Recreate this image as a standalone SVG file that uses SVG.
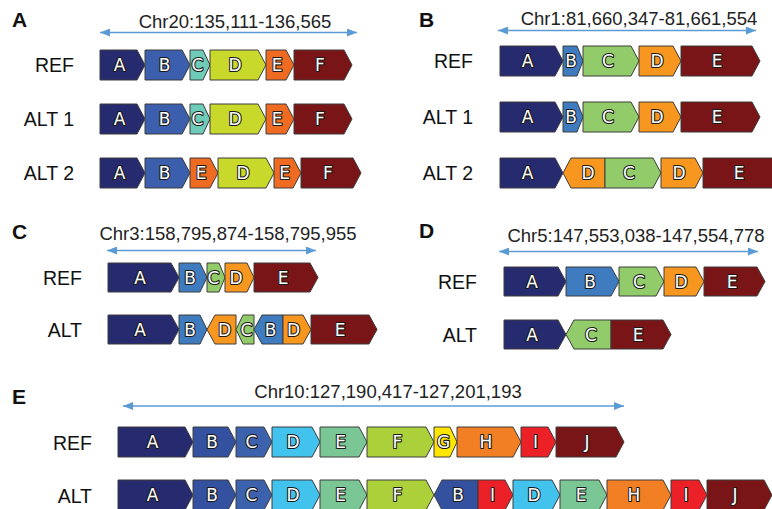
<svg xmlns="http://www.w3.org/2000/svg" width="772" height="509" viewBox="0 0 772 509">
<defs>
<marker id="ah" viewBox="0 0 10 8" refX="10" refY="4" markerWidth="10" markerHeight="8" markerUnits="userSpaceOnUse" orient="auto-start-reverse"><path d="M0,0 L10,4 L0,8 z" fill="#5b9bd5"/></marker>
<style>
polygon{stroke:#3c3c3c;stroke-width:1}
.t{font-family:"DejaVu Sans",sans-serif;font-size:17px;fill:#fff;stroke:#1a1a1a;stroke-width:2.2;paint-order:stroke;stroke-linejoin:round;text-anchor:middle}
.lbl{font-family:"Liberation Sans",Arial,sans-serif;font-size:19.5px;fill:#111;text-anchor:end}
.chr{font-family:"Liberation Sans",Arial,sans-serif;font-size:18.5px;fill:#222;text-anchor:middle}
.pl{font-family:"Liberation Sans",Arial,sans-serif;font-size:21px;font-weight:bold;fill:#111}
.arr{stroke:#5b9bd5;stroke-width:1.5;fill:none;marker-start:url(#ah);marker-end:url(#ah)}
.nv{fill:#262a6e}.dr{fill:#7a1517}
.ab{fill:#3b5fad}.ac{fill:#6dcbb7}.ad{fill:#c8d92b}.ae{fill:#ef6b22}
.bb{fill:#3e7bbf}.bc{fill:#92cc6a}.bd{fill:#f7971f}
.eb{fill:#3451a0}.ec{fill:#3c62ad}.ed{fill:#42c3ee}.ee{fill:#7ac694}.ef{fill:#acd03a}.eg{fill:#ffe500}.eh{fill:#f37f24}.ei{fill:#ec2127}
</style>
</defs>

<g id="labels">
<text class="pl" x="12" y="27">A</text>
<text class="pl" x="419" y="27">B</text>
<text class="pl" x="12" y="239">C</text>
<text class="pl" x="419" y="238">D</text>
<text class="pl" x="12" y="404">E</text>
<text class="chr" x="235" y="28">Chr20:135,111-136,565</text>
<text class="chr" x="639" y="25">Chr1:81,660,347-81,661,554</text>
<text class="chr" x="228" y="240">Chr3:158,795,874-158,795,955</text>
<text class="chr" x="636" y="241.5">Chr5:147,553,038-147,554,778</text>
<text class="chr" x="388" y="398">Chr10:127,190,417-127,201,193</text>
<text class="lbl" x="74" y="72">REF</text>
<text class="lbl" x="74" y="126">ALT 1</text>
<text class="lbl" x="74" y="180">ALT 2</text>
<text class="lbl" x="473" y="68">REF</text>
<text class="lbl" x="473" y="124">ALT 1</text>
<text class="lbl" x="473" y="180">ALT 2</text>
<text class="lbl" x="82" y="284.5">REF</text>
<text class="lbl" x="82" y="336.5">ALT</text>
<text class="lbl" x="477" y="288.5">REF</text>
<text class="lbl" x="477" y="341.5">ALT</text>
<text class="lbl" x="92" y="449.5">REF</text>
<text class="lbl" x="92" y="502.5">ALT</text>
</g>

<g id="connectors">
<line class="arr" x1="100" y1="32.5" x2="357" y2="32.5"/>
<line class="arr" x1="498" y1="30.5" x2="756" y2="30.5"/>
<line class="arr" x1="107" y1="250.5" x2="316" y2="250.5"/>
<line class="arr" x1="499" y1="251.5" x2="758" y2="251.5"/>
<line class="arr" x1="123" y1="406" x2="624" y2="406"/>
</g>

<!-- Panel A REF -->
<g id="a-ref-A"><polygon class="nv" points="100,50 137,50 145,65 137,80 100,80"/><text class="t" x="119.5" y="71.2">A</text></g>
<g id="a-ref-B"><polygon class="ab" points="145,50 182,50 190,65 182,80 145,80"/><text class="t" x="164.5" y="71.2">B</text></g>
<g id="a-ref-C"><polygon class="ac" points="190,50 203,50 210,65 203,80 190,80"/><text class="t" x="197.5" y="71.2">C</text></g>
<g id="a-ref-D"><polygon class="ad" points="210,50 258,50 266,65 258,80 210,80"/><text class="t" x="235" y="71.2">D</text></g>
<g id="a-ref-E"><polygon class="ae" points="266,50 286,50 294,65 286,80 266,80"/><text class="t" x="277" y="71.2">E</text></g>
<g id="a-ref-F"><polygon class="dr" points="294,50 344,50 352,65 344,80 294,80"/><text class="t" x="320" y="71.2">F</text></g>
<!-- Panel A ALT1 -->
<g id="a-alt1-A"><polygon class="nv" points="100,104 137,104 145,119 137,134 100,134"/><text class="t" x="119.5" y="125.2">A</text></g>
<g id="a-alt1-B"><polygon class="ab" points="145,104 182,104 190,119 182,134 145,134"/><text class="t" x="164.5" y="125.2">B</text></g>
<g id="a-alt1-C"><polygon class="ac" points="190,104 203,104 210,119 203,134 190,134"/><text class="t" x="197.5" y="125.2">C</text></g>
<g id="a-alt1-D"><polygon class="ad" points="210,104 258,104 266,119 258,134 210,134"/><text class="t" x="235" y="125.2">D</text></g>
<g id="a-alt1-E"><polygon class="ae" points="266,104 286,104 294,119 286,134 266,134"/><text class="t" x="277" y="125.2">E</text></g>
<g id="a-alt1-F"><polygon class="dr" points="294,104 344,104 352,119 344,134 294,134"/><text class="t" x="320" y="125.2">F</text></g>
<!-- Panel A ALT2 -->
<g id="a-alt2-A"><polygon class="nv" points="100,158 137,158 145,173 137,188 100,188"/><text class="t" x="119.5" y="179.2">A</text></g>
<g id="a-alt2-B"><polygon class="ab" points="145,158 182,158 190,173 182,188 145,188"/><text class="t" x="164.5" y="179.2">B</text></g>
<g id="a-alt2-E1"><polygon class="ae" points="190,158 210,158 218,173 210,188 190,188"/><text class="t" x="201" y="179.2">E</text></g>
<g id="a-alt2-D"><polygon class="ad" points="218,158 266,158 274,173 266,188 218,188"/><text class="t" x="243" y="179.2">D</text></g>
<g id="a-alt2-E2"><polygon class="ae" points="274,158 293,158 301,173 293,188 274,188"/><text class="t" x="284.5" y="179.2">E</text></g>
<g id="a-alt2-F"><polygon class="dr" points="301,158 353,158 361,173 353,188 301,188"/><text class="t" x="328" y="179.2">F</text></g>

<!-- Panel B REF -->
<g id="b-ref-A"><polygon class="nv" points="500,46 555,46 563,61 555,76 500,76"/><text class="t" x="527.5" y="67.2">A</text></g>
<g id="b-ref-B"><polygon class="bb" points="563,46 577,46 583,61 577,76 563,76"/><text class="t" x="571" y="67.2">B</text></g>
<g id="b-ref-C"><polygon class="bc" points="583,46 631,46 639,61 631,76 583,76"/><text class="t" x="608" y="67.2">C</text></g>
<g id="b-ref-D"><polygon class="bd" points="639,46 673,46 681,61 673,76 639,76"/><text class="t" x="657" y="67.2">D</text></g>
<g id="b-ref-E"><polygon class="dr" points="681,46 752,46 760,61 752,76 681,76"/><text class="t" x="717" y="67.2">E</text></g>
<!-- Panel B ALT1 -->
<g id="b-alt1-A"><polygon class="nv" points="500,102 555,102 563,117 555,132 500,132"/><text class="t" x="527.5" y="123.2">A</text></g>
<g id="b-alt1-B"><polygon class="bb" points="563,102 577,102 583,117 577,132 563,132"/><text class="t" x="571" y="123.2">B</text></g>
<g id="b-alt1-C"><polygon class="bc" points="583,102 631,102 639,117 631,132 583,132"/><text class="t" x="608" y="123.2">C</text></g>
<g id="b-alt1-D"><polygon class="bd" points="639,102 673,102 681,117 673,132 639,132"/><text class="t" x="657" y="123.2">D</text></g>
<g id="b-alt1-E"><polygon class="dr" points="681,102 752,102 760,117 752,132 681,132"/><text class="t" x="717" y="123.2">E</text></g>
<!-- Panel B ALT2 -->
<g id="b-alt2-A"><polygon class="nv" points="500,158 555,158 563,173 555,188 500,188"/><text class="t" x="527.5" y="179.2">A</text></g>
<g id="b-alt2-D1"><polygon class="bd" points="563,173 571,158 605,158 605,188 571,188"/><text class="t" x="588" y="179.2">D</text></g>
<g id="b-alt2-C"><polygon class="bc" points="605,158 653,158 661,173 653,188 605,188"/><text class="t" x="629" y="179.2">C</text></g>
<g id="b-alt2-D2"><polygon class="bd" points="661,158 695,158 703,173 695,188 661,188"/><text class="t" x="679" y="179.2">D</text></g>
<g id="b-alt2-E"><polygon class="dr" points="703,158 777,158 785,173 777,188 703,188"/><text class="t" x="739" y="179.2">E</text></g>

<!-- Panel C REF -->
<g id="c-ref-A"><polygon class="nv" points="108,263 171,263 179,277.5 171,292 108,292"/><text class="t" x="140" y="283.7">A</text></g>
<g id="c-ref-B"><polygon class="bb" points="179,263 200,263 207,277.5 200,292 179,292"/><text class="t" x="190" y="283.7">B</text></g>
<g id="c-ref-C"><polygon class="bc" points="207,263 219,263 225,277.5 219,292 207,292"/><text class="t" x="213.5" y="283.7">C</text></g>
<g id="c-ref-D"><polygon class="bd" points="225,263 247,263 254,277.5 247,292 225,292"/><text class="t" x="236" y="283.7">D</text></g>
<g id="c-ref-E"><polygon class="dr" points="254,263 310,263 318,277.5 310,292 254,292"/><text class="t" x="283" y="283.7">E</text></g>
<!-- Panel C ALT -->
<g id="c-alt-A"><polygon class="nv" points="108,315 171,315 179,329.5 171,344 108,344"/><text class="t" x="140" y="335.7">A</text></g>
<g id="c-alt-B1"><polygon class="bb" points="179,315 200,315 207,329.5 200,344 179,344"/><text class="t" x="190" y="335.7">B</text></g>
<g id="c-alt-D1"><polygon class="bd" points="207,329.5 215,315 236,315 236,344 215,344"/><text class="t" x="224.5" y="335.7">D</text></g>
<g id="c-alt-C"><polygon class="bc" points="236,329.5 243,315 254,315 254,344 243,344"/><text class="t" x="246.5" y="335.7">C</text></g>
<g id="c-alt-B2"><polygon class="bb" points="254,329.5 262,315 283,315 283,344 262,344"/><text class="t" x="270.5" y="335.7">B</text></g>
<g id="c-alt-D2"><polygon class="bd" points="283,315 303,315 311,329.5 303,344 283,344"/><text class="t" x="293.5" y="335.7">D</text></g>
<g id="c-alt-E"><polygon class="dr" points="311,315 369,315 377,329.5 369,344 311,344"/><text class="t" x="340" y="335.7">E</text></g>

<!-- Panel D REF -->
<g id="d-ref-A"><polygon class="nv" points="504,267 558,267 566,281.5 558,296 504,296"/><text class="t" x="532" y="287.7">A</text></g>
<g id="d-ref-B"><polygon class="bb" points="566,267 611,267 619,281.5 611,296 566,296"/><text class="t" x="590" y="287.7">B</text></g>
<g id="d-ref-C"><polygon class="bc" points="619,267 656,267 664,281.5 656,296 619,296"/><text class="t" x="639" y="287.7">C</text></g>
<g id="d-ref-D"><polygon class="bd" points="664,267 696,267 704,281.5 696,296 664,296"/><text class="t" x="681" y="287.7">D</text></g>
<g id="d-ref-E"><polygon class="dr" points="704,267 757,267 765,281.5 757,296 704,296"/><text class="t" x="732" y="287.7">E</text></g>
<!-- Panel D ALT -->
<g id="d-alt-A"><polygon class="nv" points="504,320 558,320 566,334.5 558,349 504,349"/><text class="t" x="532" y="340.7">A</text></g>
<g id="d-alt-C"><polygon class="bc" points="566,334.5 574,320 611,320 611,349 574,349"/><text class="t" x="591" y="340.7">C</text></g>
<g id="d-alt-E"><polygon class="dr" points="611,320 663,320 671,334.5 663,349 611,349"/><text class="t" x="638" y="340.7">E</text></g>

<!-- Panel E REF -->
<g id="e-ref-A"><polygon class="nv" points="118,427 185,427 193,442 185,457 118,457"/><text class="t" x="152.5" y="448.2">A</text></g>
<g id="e-ref-B"><polygon class="eb" points="193,427 228,427 236,442 228,457 193,457"/><text class="t" x="212" y="448.2">B</text></g>
<g id="e-ref-C"><polygon class="ec" points="236,427 264,427 272,442 264,457 236,457"/><text class="t" x="251.5" y="448.2">C</text></g>
<g id="e-ref-D"><polygon class="ed" points="272,427 312,427 320,442 312,457 272,457"/><text class="t" x="293" y="448.2">D</text></g>
<g id="e-ref-E"><polygon class="ee" points="320,427 359,427 367,442 359,457 320,457"/><text class="t" x="340.5" y="448.2">E</text></g>
<g id="e-ref-F"><polygon class="ef" points="367,427 426,427 434,442 426,457 367,457"/><text class="t" x="397.5" y="448.2">F</text></g>
<g id="e-ref-G"><polygon class="eg" points="434,427 450,427 457,442 450,457 434,457"/><text class="t" x="443.5" y="448.2">G</text></g>
<g id="e-ref-H"><polygon class="eh" points="457,427 513,427 521,442 513,457 457,457"/><text class="t" x="486" y="448.2">H</text></g>
<g id="e-ref-I"><polygon class="ei" points="521,427 548,427 556,442 548,457 521,457"/><text class="t" x="535.5" y="448.2">I</text></g>
<g id="e-ref-J"><polygon class="dr" points="556,427 616,427 624,442 616,457 556,457"/><text class="t" x="587" y="448.2">J</text></g>
<!-- Panel E ALT -->
<g id="e-alt-A"><polygon class="nv" points="118,480 185,480 193,495 185,510 118,510"/><text class="t" x="152.5" y="501.2">A</text></g>
<g id="e-alt-B1"><polygon class="eb" points="193,480 228,480 236,495 228,510 193,510"/><text class="t" x="212" y="501.2">B</text></g>
<g id="e-alt-C"><polygon class="ec" points="236,480 264,480 272,495 264,510 236,510"/><text class="t" x="251.5" y="501.2">C</text></g>
<g id="e-alt-D1"><polygon class="ed" points="272,480 312,480 320,495 312,510 272,510"/><text class="t" x="293" y="501.2">D</text></g>
<g id="e-alt-E1"><polygon class="ee" points="320,480 359,480 367,495 359,510 320,510"/><text class="t" x="340.5" y="501.2">E</text></g>
<g id="e-alt-F"><polygon class="ef" points="367,480 426,480 434,495 426,510 367,510"/><text class="t" x="397.5" y="501.2">F</text></g>
<g id="e-alt-B2"><polygon class="eb" points="434,495 442,480 478,480 478,510 442,510"/><text class="t" x="458" y="501.2">B</text></g>
<g id="e-alt-I1"><polygon class="ei" points="478,480 505,480 513,495 505,510 478,510"/><text class="t" x="492.5" y="501.2">I</text></g>
<g id="e-alt-D2"><polygon class="ed" points="513,480 552,480 560,495 552,510 513,510"/><text class="t" x="534" y="501.2">D</text></g>
<g id="e-alt-E2"><polygon class="ee" points="560,480 599,480 607,495 599,510 560,510"/><text class="t" x="581" y="501.2">E</text></g>
<g id="e-alt-H"><polygon class="eh" points="607,480 663,480 671,495 663,510 607,510"/><text class="t" x="634" y="501.2">H</text></g>
<g id="e-alt-I2"><polygon class="ei" points="671,480 699,480 707,495 699,510 671,510"/><text class="t" x="686" y="501.2">I</text></g>
<g id="e-alt-J"><polygon class="dr" points="707,480 764,480 772,495 764,510 707,510"/><text class="t" x="735" y="501.2">J</text></g>
</svg>
